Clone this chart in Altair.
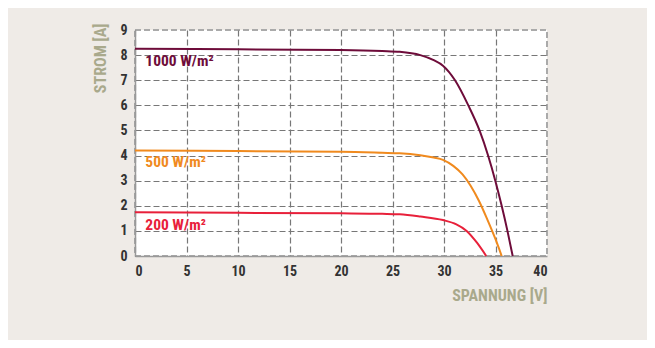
import altair as alt
import pandas as pd

v1000 = [0, 10, 20, 24, 25.7, 27.7, 29.0, 29.9, 31.07, 32.36, 33.45, 34.28, 34.98, 35.6, 36.16, 36.67]
i1000 = [8.25, 8.23, 8.2, 8.16, 8.13, 8.0, 7.8, 7.58, 7.0, 6.0, 5.0, 4.0, 3.0, 2.0, 1.0, 0]
v500 = [0, 10, 20, 24, 25.7, 27.7, 29.0, 29.9, 30.9, 31.8, 32.6, 33.4, 34.2, 35.0, 35.6]
i500 = [4.2, 4.18, 4.15, 4.11, 4.09, 4.01, 3.92, 3.83, 3.59, 3.25, 2.79, 2.19, 1.46, 0.67, 0]
v200 = [0, 10, 20, 24, 25.7, 27.7, 29.9, 31.2, 32.2, 33.2, 34.1]
i200 = [1.74, 1.72, 1.7, 1.68, 1.66, 1.57, 1.43, 1.26, 1.0, 0.53, 0]

series = ["1000 W/m²", "500 W/m²", "200 W/m²"]
colors = ["#6e0c3a", "#f08a1e", "#e8203a"]
label_v = [1.0, 1.0, 1.0]
label_i = [7.76, 3.73, 1.22]

rows = []
for name, vs, is_ in zip(series, [v1000, v500, v200], [i1000, i500, i200]):
    for v, i in zip(vs, is_):
        rows.append({"series": name, "V": v, "I": i})
df = pd.DataFrame(rows)
labels = pd.DataFrame({"series": series, "V": label_v, "I": label_i})

FONT = "Roboto Condensed, Liberation Sans Narrow, DejaVu Sans Condensed, Roboto, sans-serif"
color_scale = alt.Scale(domain=series, range=colors)

x = alt.X("V:Q", scale=alt.Scale(domain=[0, 40], nice=False),
          axis=alt.Axis(values=list(range(0, 41, 5)), title="SPANNUNG [V]",
                        titleAnchor="end", titleY=39, titleBaseline="middle",
                        labelOverlap=False,
                        gridColor={"condition": {"test": "datum.value === 40", "value": "transparent"}, "value": "#777"}))
y = alt.Y("I:Q", scale=alt.Scale(domain=[0, 9], nice=False),
          axis=alt.Axis(values=list(range(0, 10)), title="STROM [A]",
                        titleAngle=-90, titleAlign="right", titleBaseline="middle",
                        titleX=-35, titleY=-7, labelOverlap=False,
                        gridColor={"condition": {"test": "datum.value === 9", "value": "transparent"}, "value": "#777"}))

color = alt.Color("series:N", scale=color_scale, legend=None)

lines = alt.Chart(df).mark_line(strokeWidth=2, interpolate="monotone").encode(
    x=x, y=y, color=color, detail="series:N")

texts = alt.Chart(labels).mark_text(align="left", baseline="middle", fontSize=15.5,
                                    fontWeight="bold", font=FONT).encode(
    x=x, y=y, text="series:N", color=color)

chart = alt.layer(lines, texts).properties(
    width=412, height=226,
    autosize=alt.AutoSizeParams(type="none"),
    padding={"left": 127, "top": 22, "right": 100, "bottom": 84},
    background="#efebe7",
).configure_view(
    fill="white", stroke="#aaa", strokeDash=[6, 3], strokeWidth=2
).configure_axis(
    gridDash=[6, 3], gridWidth=1.2, ticks=False,
    domainColor="#999", domainWidth=1.5,
    labelFont=FONT, labelFontSize=14, labelFontWeight="bold", labelColor="#333",
    labelPadding=8,
    titleFont=FONT, titleFontSize=16, titleFontWeight="bold", titleColor="#a9a98c",
)

chart.save("out.html", embed_options={"renderer": "svg", "actions": False})
